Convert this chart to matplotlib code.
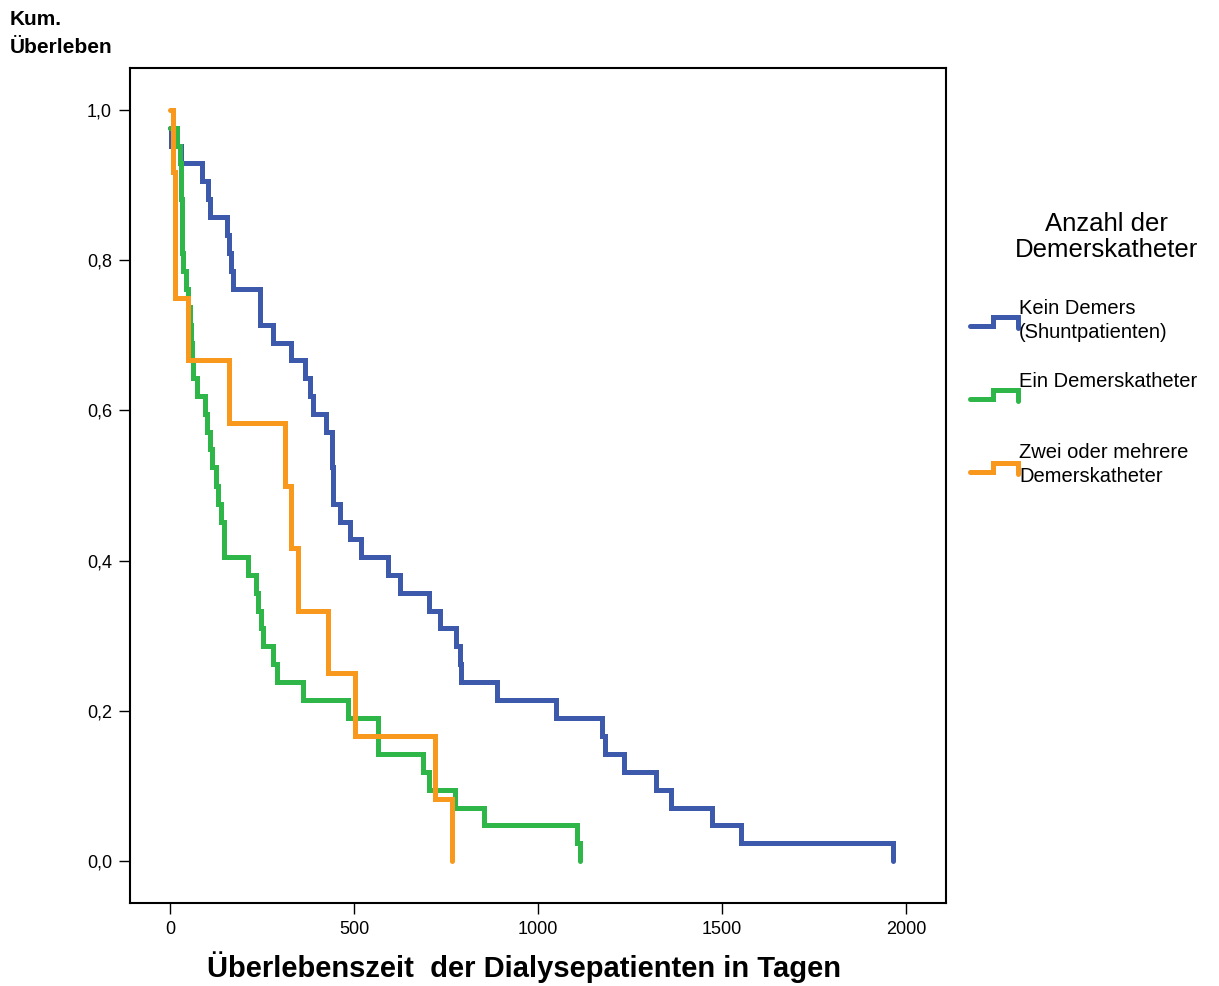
import numpy as np
import matplotlib.pyplot as plt
from matplotlib.lines import Line2D

plt.rcParams['font.family'] = ['Liberation Sans', 'DejaVu Sans']

# Kaplan-Meier steps: time in days, cumulative survival
kein_t = [0, 2, 31, 88, 104, 109, 154, 159, 166, 172, 244, 280, 330, 366, 380, 389,
          425, 439, 443, 463, 490, 518, 593, 624, 703, 735, 778, 788, 792, 890,
          1049, 1175, 1182, 1235, 1321, 1363, 1472, 1553, 1966]
kein_s = [0.976, 0.952, 0.929, 0.905, 0.881, 0.857, 0.833, 0.810, 0.786, 0.762,
          0.714, 0.690, 0.667, 0.643, 0.619, 0.595, 0.571, 0.524, 0.476, 0.452,
          0.429, 0.405, 0.381, 0.357, 0.333, 0.310, 0.286, 0.262, 0.238, 0.214,
          0.190, 0.167, 0.143, 0.119, 0.095, 0.071, 0.048, 0.024, 0.0]

ein_t = [0, 20, 28, 29, 30, 32, 33, 33.5, 35, 43, 48, 55, 58, 60, 62, 74, 95, 100,
         109, 113, 124, 130, 138, 147, 213, 234, 238, 247, 252, 281, 290, 362, 485,
         565, 688, 705, 774, 853, 1107, 1114]
ein_s = [0.976, 0.952, 0.929, 0.905, 0.881, 0.857, 0.833, 0.810, 0.786, 0.762,
         0.738, 0.714, 0.690, 0.667, 0.643, 0.619, 0.595, 0.571, 0.548, 0.524,
         0.500, 0.476, 0.452, 0.405, 0.381, 0.357, 0.333, 0.310, 0.286, 0.262,
         0.238, 0.214, 0.190, 0.143, 0.119, 0.095, 0.071, 0.048, 0.024, 0.0]

zwei_t = [0, 9, 14, 48, 161, 312, 328, 349, 430, 502, 720, 767]
zwei_s = [1.0, 0.917, 0.75, 0.667, 0.583, 0.5, 0.417, 0.333, 0.25, 0.167, 0.083, 0.0]

labels = ["Kein Demers\n(Shuntpatienten)", "Ein Demerskatheter",
          "Zwei oder mehrere\nDemerskatheter"]
colors = ["#3d59ab", "#2eb748", "#f8981d"]

x_ticks = [0, 500, 1000, 1500, 2000]
y_ticks = [0.0, 0.2, 0.4, 0.6, 0.8, 1.0]

fig = plt.figure(figsize=(12.19, 9.86), dpi=100)
ax = fig.add_axes([0.1066, 0.0842, 0.6694, 0.8468])

series = [(kein_t, kein_s), (ein_t, ein_s), (zwei_t, zwei_s)]
for (t, s), c in zip(series, colors):
    ax.step(t, s, where='post', color=c, lw=3.6,
            solid_capstyle='round', solid_joinstyle='miter')

ax.set_xlim(-109, 2109)
ax.set_ylim(-0.056, 1.056)
ax.set_xticks(x_ticks)
ax.set_xticklabels([str(v) for v in x_ticks])
ax.set_yticks(y_ticks)
ax.set_yticklabels([f"{v:.1f}".replace('.', ',') for v in y_ticks])
ax.tick_params(direction='out', length=8, width=1, labelsize=13, pad=5)
for sp in ax.spines.values():
    sp.set_linewidth(1.5)

ax.set_xlabel("Überlebenszeit  der Dialysepatienten in Tagen",
              fontsize=21, fontweight='bold')
ax.xaxis.set_label_coords(0.483, -0.058)
fig.text(0.008, 0.990, "Kum.\nÜberleben", fontsize=15, fontweight='bold',
         va='top', ha='left', linespacing=1.6)

# legend drawn by hand to get the little step glyphs
fig.text(0.908, 0.760, "Anzahl der\nDemerskatheter", fontsize=18.5,
         ha='center', va='center', linespacing=1.1)
glyph_y = [0.669, 0.595, 0.521]
text_y = [0.675, 0.613, 0.529]
for gy, ty, lab, c in zip(glyph_y, text_y, labels, colors):
    gx = [0.796, 0.815, 0.815, 0.835, 0.835]
    gyy = [gy, gy, gy + 0.009, gy + 0.009, gy - 0.002]
    fig.add_artist(Line2D(gx, gyy, color=c, lw=3.6, transform=fig.transFigure,
                          solid_capstyle='round', solid_joinstyle='miter'))
    fig.text(0.836, ty, lab, fontsize=14.5, ha='left', va='center',
             linespacing=1.35)

plt.savefig("out.png", dpi=100)
